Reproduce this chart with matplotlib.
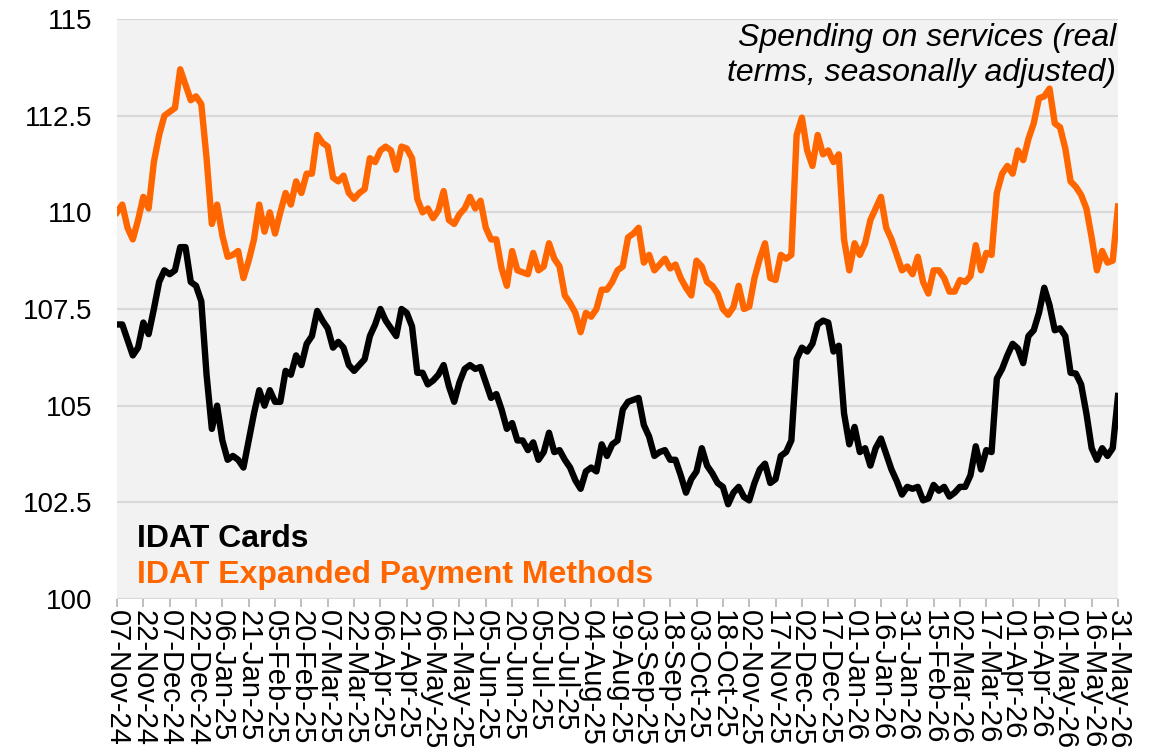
import matplotlib
matplotlib.use('Agg')
import matplotlib.pyplot as plt
import pandas as pd

plt.rcParams['font.family'] = ['Liberation Sans', 'DejaVu Sans']

# ---- data (values read every 3 days from 07-Nov-24 to 31-May-26) ----
start_date = '2024-11-07'
end_date = '2026-05-31'
step = '3D'

idat_cards = [
    107.1, 107.1, 106.7, 106.3, 106.5, 107.15, 106.85, 107.5, 108.2, 108.5,
    108.4, 108.5, 109.1, 109.1, 108.2, 108.1, 107.7, 105.8, 104.4, 105.0,
    104.1, 103.6, 103.7, 103.6, 103.4, 104.1, 104.8, 105.4, 105.0, 105.4,
    105.1, 105.1, 105.9, 105.8, 106.3, 106.05, 106.6, 106.8, 107.45, 107.2,
    107.0, 106.5, 106.65, 106.5, 106.05, 105.9, 106.05, 106.2, 106.8, 107.1,
    107.5, 107.2, 107.0, 106.8, 107.5, 107.4, 107.05, 105.85, 105.85, 105.55,
    105.65, 105.8, 106.05, 105.5, 105.1, 105.6, 105.95, 106.05, 105.95, 106.0,
    105.6, 105.2, 105.3, 104.9, 104.4, 104.55, 104.1, 104.1, 103.85, 104.05,
    103.6, 103.8, 104.3, 103.8, 103.85, 103.6, 103.4, 103.07, 102.85, 103.3,
    103.4, 103.3, 104.0, 103.7, 104.0, 104.1, 104.9, 105.1, 105.15, 105.2,
    104.5, 104.2, 103.7, 103.8, 103.85, 103.6, 103.6, 103.2, 102.75, 103.1,
    103.3, 103.9, 103.45, 103.25, 103.0, 102.9, 102.45, 102.75, 102.9, 102.64,
    102.55, 103.0, 103.35, 103.5, 103.0, 103.1, 103.7, 103.8, 104.1, 106.2,
    106.5, 106.4, 106.6, 107.1, 107.2, 107.15, 106.4, 106.55, 104.8, 104.0,
    104.45, 103.8, 103.9, 103.45, 103.9, 104.15, 103.75, 103.35, 103.05, 102.7,
    102.9, 102.85, 102.9, 102.55, 102.6, 102.95, 102.8, 102.9, 102.65, 102.75,
    102.9, 102.9, 103.2, 103.95, 103.35, 103.85, 103.8, 105.7, 105.95, 106.3,
    106.6, 106.48, 106.1, 106.8, 106.95, 107.4, 108.05, 107.6, 106.95, 107.0,
    106.8, 105.85, 105.83, 105.55, 104.8, 103.9, 103.6, 103.9, 103.7, 103.9,
    105.25,
]

idat_expanded = [
    110.0, 110.2, 109.6, 109.3, 109.8, 110.4, 110.1, 111.3, 112.0, 112.5,
    112.6, 112.7, 113.7, 113.3, 112.9, 113.0, 112.8, 111.4, 109.7, 110.2,
    109.4, 108.85, 108.9, 109.0, 108.3, 108.75, 109.3, 110.2, 109.5, 110.0,
    109.45, 110.0, 110.5, 110.2, 110.8, 110.5, 111.0, 111.0, 112.0, 111.8,
    111.7, 110.9, 110.8, 110.95, 110.5, 110.35, 110.5, 110.6, 111.4, 111.3,
    111.6, 111.7, 111.6, 111.1, 111.7, 111.65, 111.4, 110.35, 110.0, 110.1,
    109.85, 110.05, 110.55, 109.8, 109.7, 109.95, 110.1, 110.4, 110.1, 110.3,
    109.6, 109.3, 109.3, 108.55, 108.1, 109.0, 108.5, 108.45, 108.4, 108.95,
    108.5, 108.6, 109.2, 108.8, 108.6, 107.85, 107.65, 107.4, 106.9, 107.4,
    107.3, 107.5, 108.0, 108.0, 108.2, 108.5, 108.6, 109.35, 109.45, 109.6,
    108.7, 108.9, 108.5, 108.65, 108.8, 108.55, 108.65, 108.3, 108.05, 107.85,
    108.75, 108.6, 108.2, 108.1, 107.9, 107.5, 107.35, 107.55, 108.1, 107.5,
    107.56, 108.3, 108.8, 109.2, 108.3, 108.25, 108.9, 108.8, 108.9, 112.0,
    112.45, 111.6, 111.2, 112.0, 111.5, 111.6, 111.3, 111.5, 109.3, 108.5,
    109.2, 108.9, 109.2, 109.8, 110.1, 110.4, 109.6, 109.3, 108.9, 108.5,
    108.6, 108.4, 108.85, 108.2, 107.9, 108.5, 108.5, 108.3, 107.95, 107.95,
    108.25, 108.2, 108.35, 109.15, 108.5, 108.95, 108.9, 110.5, 111.0, 111.2,
    111.0, 111.6, 111.35, 111.9, 112.3, 112.95, 113.0, 113.2, 112.3, 112.2,
    111.65, 110.8, 110.66, 110.45, 110.1, 109.35, 108.5, 109.0, 108.7, 108.75,
    110.15,
]

y_ticks = [100, 102.5, 105, 107.5, 110, 112.5, 115]
y_tick_labels = ['100', '102.5', '105', '107.5', '110', '112.5', '115']
series_names = ['IDAT Cards', 'IDAT Expanded Payment Methods']
note_text = 'Spending on services (real\nterms, seasonally adjusted)'

# ---- figure ----
dates = pd.date_range(start_date, periods=len(idat_cards), freq=step)
tick_dates = pd.date_range(start_date, end_date, freq='15D')
tick_labels = [d.strftime('%d-%b-%y') for d in tick_dates]

ORANGE = '#FF6600'
fig = plt.figure(figsize=(11.55, 7.54), dpi=100)
ax = fig.add_axes([117 / 1155, 1 - 599 / 754, 1001 / 1155, 580 / 754])
ax.set_facecolor('#F2F2F2')

ax.plot(dates, idat_expanded, color=ORANGE, lw=4.6, solid_joinstyle='round', zorder=3)
ax.plot(dates, idat_cards, color='black', lw=4.6, solid_joinstyle='round', zorder=3)

ax.set_ylim(100, 115)
ax.set_yticks(y_ticks)
ax.set_yticklabels(y_tick_labels)
ax.set_xlim(dates[0], tick_dates[-1])
ax.set_xticks(tick_dates)
ax.set_xticklabels(tick_labels, rotation=-90, fontsize=21, va='top', ha='center')

ax.yaxis.grid(True, color='#D9D9D9', lw=1.6)
ax.set_axisbelow(True)
for s in ax.spines.values():
    s.set_visible(False)
ax.tick_params(axis='x', length=6, width=1.4, color='#BFBFBF', pad=2, labelcolor='black')
ax.tick_params(axis='y', length=0, pad=18, labelsize=20, labelcolor='black')

ax.text(20 / 1001, (599 - 539) / 580, series_names[0], transform=ax.transAxes,
        fontsize=23, fontweight='bold', color='black', va='center', ha='left')
ax.text(20 / 1001, (599 - 575) / 580, series_names[1], transform=ax.transAxes,
        fontsize=23, fontweight='bold', color=ORANGE, va='center', ha='left')
ax.text(999 / 1001, (599 - 23) / 580, note_text, transform=ax.transAxes,
        fontsize=23, style='italic', color='black', va='top', ha='right',
        multialignment='right', linespacing=1.2)

fig.savefig('out.png', dpi=100)
